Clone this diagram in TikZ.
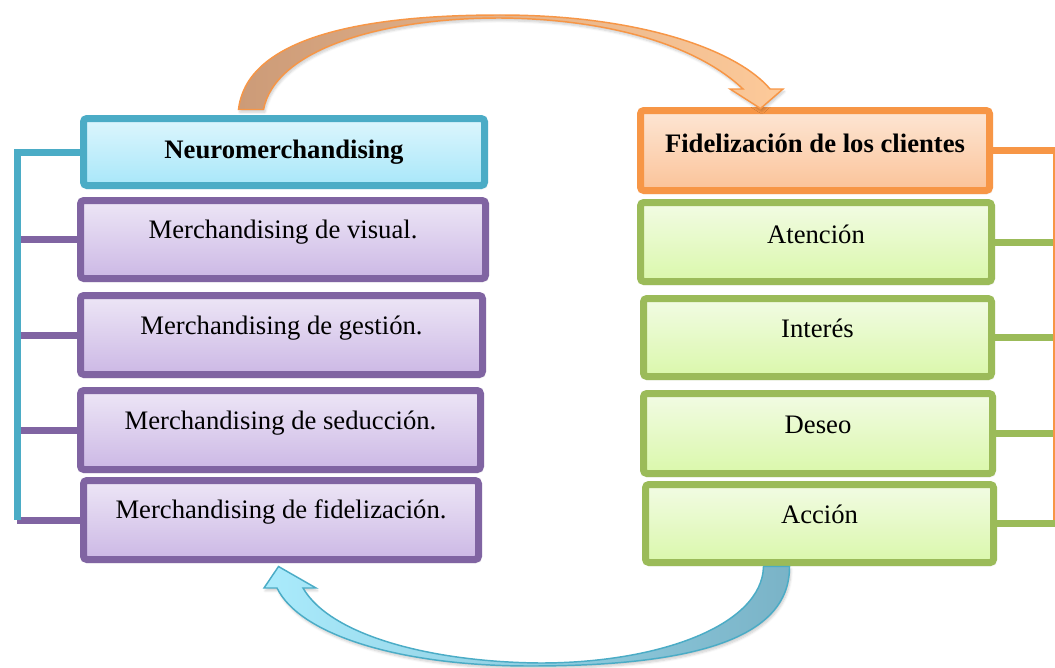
\documentclass[tikz,border=0pt]{standalone}
\usepackage{fontspec}
\setmainfont{Liberation Serif}
\usetikzlibrary{calc,shadows.blur}
\definecolor{cyanB}{HTML}{4BACC6}
\definecolor{cyanT}{HTML}{DDF6FD}
\definecolor{cyanD}{HTML}{A8E7F9}
\definecolor{purB}{HTML}{8064A2}
\definecolor{purT}{HTML}{EDE6F6}
\definecolor{purD}{HTML}{CCB8E5}
\definecolor{orgB}{HTML}{F79646}
\definecolor{orgT}{HTML}{FDE6D4}
\definecolor{orgD}{HTML}{FBC399}
\definecolor{grnB}{HTML}{9BBB59}
\definecolor{grnT}{HTML}{F2FBE4}
\definecolor{grnD}{HTML}{DAF8AB}
\definecolor{arrTL}{HTML}{CC9B78}
\definecolor{arrTR}{HTML}{FDCA9A}
\definecolor{arrBL}{HTML}{AAEBFC}
\definecolor{arrBR}{HTML}{7AB3C7}
\begin{document}
\begin{tikzpicture}[x=0.75pt,y=-0.75pt,
  box/.style={draw, line width=5.25pt, rounded corners=2.5pt, inner sep=0pt,
    font=\fontsize{20}{24}\selectfont, text height=0pt, text depth=0pt,
    blur shadow={shadow xshift=1.2pt, shadow yshift=-1.5pt, shadow blur steps=6, shadow opacity=22}},
  cbox/.style={box, draw=cyanB, top color=cyanT, bottom color=cyanD},
  pbox/.style={box, draw=purB, top color=purT, bottom color=purD},
  obox/.style={box, draw=orgB, top color=orgT, bottom color=orgD},
  gbox/.style={box, draw=grnB, top color=grnT, bottom color=grnD},
  link/.style={line width=5.25pt},
  bigarrow/.style={line width=1.1pt, line join=miter,
    blur shadow={shadow xshift=1pt, shadow yshift=-2pt, shadow blur steps=6, shadow opacity=20}}
]
\useasboundingbox (0,0) rectangle (1055,667);

% left column
\node[cbox, minimum width=300.75pt, minimum height=50.25pt, text height=9pt] (neuro) at (284,152) {\textbf{Neuromerchandising}};
\node[pbox, minimum width=303.75pt, minimum height=58.5pt, text depth=2.25pt] (visual) at (283,239.5) {Merchandising de visual.};
\node[pbox, minimum width=301.5pt, minimum height=59.25pt, text depth=1.5pt] (gestion) at (281.5,335) {Merchandising de gestión.};
\node[pbox, minimum width=300pt, minimum height=59.25pt, text depth=1.5pt] (seduccion) at (280.5,430) {Merchandising de seducción.};
\node[pbox, minimum width=296.25pt, minimum height=59.25pt, text depth=3pt] (fidel) at (281,520) {Merchandising de fidelización.};

% right column
\node[obox, minimum width=261.75pt, minimum height=60pt, text height=2.25pt] (fidc) at (815,150.5) {\textbf{Fidelización de los clientes}};
\node[gbox, minimum width=263.25pt, minimum height=59.25pt, text height=1.5pt] (atencion) at (816,242) {Atención};
\node[gbox, minimum width=261pt, minimum height=58.5pt] (interes) at (817.5,337.5) {Interés};
\node[gbox, minimum width=261.75pt, minimum height=60pt] (deseo) at (818,433.5) {Deseo};
\node[gbox, minimum width=261pt, minimum height=58.5pt] (accion) at (819.5,523.5) {Acción};

% brackets
\coordinate (lspine) at (17,520);
\coordinate (rspine) at (1056,520);
\draw[link, draw=purB] (visual.west) -- (visual.west -| lspine);
\draw[link, draw=purB] (gestion.west) -- (gestion.west -| lspine);
\draw[link, draw=purB] (seduccion.west) -- (seduccion.west -| lspine);
\draw[link, draw=purB] (fidel.west) -- (fidel.west -| lspine);
\draw[link, draw=cyanB] (neuro.west) -| (lspine);
\draw[link, draw=grnB] (atencion.east) -- (atencion.east -| rspine);
\draw[link, draw=grnB] (interes.east) -- (interes.east -| rspine);
\draw[link, draw=grnB] (deseo.east) -- (deseo.east -| rspine);
\draw[link, draw=grnB] (accion.east) -- (accion.east -| rspine);
\draw[link, draw=orgB] (fidc.east) -| (rspine);

% top curved arrow
\coordinate (ta1) at ($(neuro.north west)+(158.5,-5.5)$);
\coordinate (ta2) at ($(neuro.north west)+(183.5,-5.5)$);
\coordinate (ttip) at ($(fidc.north west)+(123.5,1.5)$);
\path[bigarrow, draw=orgB, left color=arrTL, right color=arrTR]
  (ta1) .. controls (246,45) and (340,15) .. (500,15)
        .. controls (640,15) and (737,50) .. (770,89)
  -- (783,89) -- (ttip) -- (730,89) -- (743,89)
        .. controls (702,50) and (620,19) .. (500,18)
        .. controls (380,18) and (275,50) .. (ta2) -- cycle;

% bottom curved arrow
\coordinate (ba1) at ($(accion.south west)+(121.5,0.5)$);
\coordinate (ba2) at ($(accion.south west)+(147.5,0.5)$);
\coordinate (btip) at ($(fidel.south west)+(198.5,3.5)$);
\path[bigarrow, draw=cyanB, left color=arrBL, right color=arrBR]
  (ba2) .. controls (790,640) and (690,666) .. (530,666)
        .. controls (400,666) and (300,635) .. (277,588)
  -- (264,588) -- (btip) -- (316,588) -- (303,588)
        .. controls (330,635) and (430,662) .. (540,663)
        .. controls (660,663) and (762,625) .. (ba1) -- cycle;
\end{tikzpicture}
\end{document}
